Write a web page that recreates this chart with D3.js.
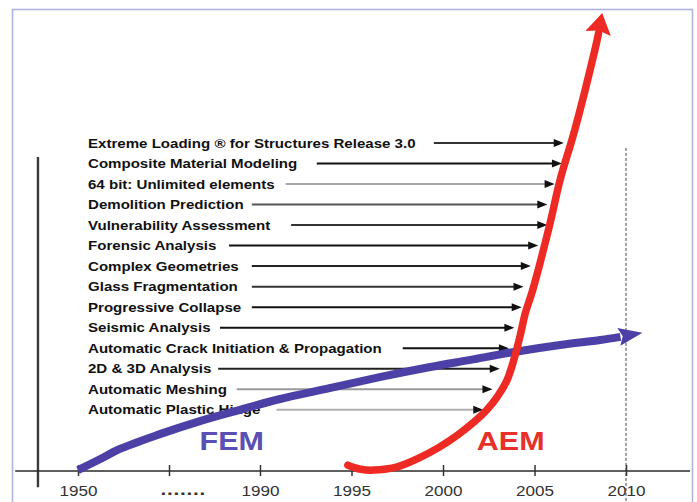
<!DOCTYPE html>
<html>
<head>
<meta charset="utf-8">
<script src="https://cdn.jsdelivr.net/npm/d3@7"></script>
<style>
  html, body { margin: 0; padding: 0; background: #fff; }
  svg { display: block; }
</style>
</head>
<body>
<svg id="chart" width="697" height="502"></svg>
<script>
// ---- data -------------------------------------------------------------
// Time axis (broken between 1950 and 1990)
const tickYears  = [1950, 1970, 1990, 1995, 2000, 2005, 2010];
const tickLabels = ["1950", ".......", "1990", "1995", "2000", "2005", "2010"];

// Milestones, top to bottom
const milestones = [
  "Extreme Loading \u00AE for Structures Release 3.0",
  "Composite Material Modeling",
  "64 bit: Unlimited elements",
  "Demolition Prediction",
  "Vulnerability Assessment",
  "Forensic Analysis",
  "Complex Geometries",
  "Glass Fragmentation",
  "Progressive Collapse",
  "Seismic Analysis",
  "Automatic Crack Initiation & Propagation",
  "2D & 3D Analysis",
  "Automatic Meshing",
  "Automatic Plastic Hinge"
];
// Year where each milestone arrow begins and the year it points at
const arrowFrom = [1999.5, 1993.1, 1991.4, 1988.2, 1991.7, 1983.2, 1988.2,
                   1988.2, 1988.2, 1981.2, 1997.8, 1980.8, 1984.9, 1990.9];
const arrowTo   = [2006.6, 2006.5, 2006.1, 2005.7, 2005.7, 2005.2, 2004.8,
                   2004.4, 2004.3, 2003.9, 2003.6, 2003.1, 2002.7, 2002.2];
// Milestone rows on the capability scale (top row, bottom row)
const rowTop = 72.9, rowBottom = 13.6;

// FEM capability over time (last point = arrow tip)
const femYears  = [1950, 1954.8, 1959.2, 1968.0, 1976.8, 1985.6, 1991.1, 1993.8,
                   1996.6, 1999.3, 2001.5, 2003.8, 2006.4, 2008.6, 2009.7, 2010.9];
const femValues = [0.2, 2.6, 4.9, 8.2, 11.1, 13.6, 16.0, 18.4,
                   20.9, 23.1, 24.7, 26.4, 28.0, 29.1, 29.8, 30.7];

// AEM capability over time (last point = arrow tip)
const aemYears  = [1994.8, 1995.5, 1996.2, 1997.5, 1998.7, 1999.8, 2000.8, 2001.7,
                   2002.4, 2003.0, 2003.5, 2003.9, 2004.2, 2004.5, 2004.9, 2005.8,
                   2006.4, 2007.2, 2008.3, 2008.5, 2008.7];
const aemValues = [1.3, 0.4, 0.2, 0.9, 2.9, 5.3, 8.0, 10.9,
                   13.6, 16.7, 20.2, 25.1, 29.8, 35.1, 40.2, 54.2,
                   64.7, 75.8, 93.6, 97.3, 101.8];

// ---- drawing ----------------------------------------------------------
const svg = d3.select("#chart");
const FONT = "'Liberation Sans', Arial, Helvetica, sans-serif";
const STRETCH = 1.22;

const x = d3.scaleLinear().domain([1950, 1990, 2010]).range([78, 260, 626]);
const y = d3.scaleLinear().domain([0, 100]).range([471, 21]);
const row = d3.scalePoint().domain(milestones).range([y(rowTop), y(rowBottom)]);

function stretch(sel, k) {
  sel.each(function () {
    const n = this.getComputedTextLength();
    this.setAttribute("textLength", n * k);
    this.setAttribute("lengthAdjust", "spacingAndGlyphs");
  });
}

// frame
svg.append("rect")
  .attr("x", 12.5).attr("y", 9.5)
  .attr("width", 680).attr("height", 520)
  .attr("fill", "none")
  .attr("stroke", "#aeb3df").attr("stroke-width", 1.6);

// vertical reference line at 2010
svg.append("line")
  .attr("x1", x(2010)).attr("x2", x(2010))
  .attr("y1", y(71.8)).attr("y2", 502)
  .attr("stroke", "#444").attr("stroke-width", 1)
  .attr("stroke-dasharray", "3,2");

// left vertical axis line
svg.append("line")
  .attr("x1", x(1941.2)).attr("x2", x(1941.2))
  .attr("y1", y(69.8)).attr("y2", y(-3.6))
  .attr("stroke", "#3a3a3a").attr("stroke-width", 2.4);

// horizontal axis
svg.append("line")
  .attr("x1", x(1936.2)).attr("x2", x(2013.5))
  .attr("y1", y(0)).attr("y2", y(0))
  .attr("stroke", "#2a2a2a").attr("stroke-width", 1.6);

const axis = d3.axisBottom(x)
  .tickValues(tickYears)
  .tickFormat((d, i) => tickLabels[i])
  .tickSize(5);

const gx = svg.append("g")
  .attr("transform", `translate(0,${y(0)})`)
  .call(axis);
gx.select(".domain").remove();
gx.selectAll(".tick line")
  .attr("y1", -6).attr("y2", 5)
  .attr("stroke", "#333").attr("stroke-width", 1.5);
gx.selectAll(".tick text")
  .attr("y", 25).attr("dy", null)
  .attr("fill", "#333")
  .style("font-family", FONT)
  .style("font-size", "14px");
gx.selectAll(".tick text")
  .filter((d, i) => tickLabels[i].startsWith("."))
  .attr("text-anchor", "start")
  .attr("x", -9).attr("y", 24)
  .style("font-size", "17px")
  .style("font-weight", "bold")
  .style("letter-spacing", "0.6px");
stretch(gx.selectAll(".tick text"), STRETCH);

// milestone labels
const labels = svg.append("g").selectAll("text")
  .data(milestones)
  .join("text")
  .attr("x", x(1952.2))
  .attr("y", d => row(d) + 4.6)
  .attr("fill", "#111")
  .style("font-family", FONT)
  .style("font-size", "12.5px")
  .style("font-weight", "bold")
  .text(d => d);
stretch(labels, 1.205);

// milestone arrows
const shade = ["#333", "#111", "#a8a8a8", "#555", "#333", "#111", "#222",
               "#333", "#111", "#111", "#111", "#222", "#9a9a9a", "#b0b0b0"];
const arrows = svg.append("g").selectAll("g")
  .data(milestones)
  .join("g");
arrows.append("line")
  .attr("x1", (d, i) => x(arrowFrom[i]))
  .attr("x2", (d, i) => x(arrowTo[i]) - 6)
  .attr("y1", d => row(d)).attr("y2", d => row(d))
  .attr("stroke", (d, i) => shade[i])
  .attr("stroke-width", 2);
arrows.append("path")
  .attr("d", (d, i) => {
    const tx = x(arrowTo[i]), ty = row(d);
    return `M${tx},${ty} L${tx - 10},${ty - 4} L${tx - 10},${ty + 4} Z`;
  })
  .attr("fill", "#111");

// notched arrowhead at the end of a trend line
function arrowHead(p0, p1, len, half, notch) {
  const dx = p1[0] - p0[0], dy = p1[1] - p0[1];
  const L = Math.hypot(dx, dy), ux = dx / L, uy = dy / L;
  const nx = -uy, ny = ux;
  const bx = p1[0] - ux * len, by = p1[1] - uy * len;
  return `M${p1[0]},${p1[1]}` +
    `L${bx + nx * half},${by + ny * half}` +
    `L${bx + ux * notch},${by + uy * notch}` +
    `L${bx - nx * half},${by - ny * half}Z`;
}

const line = d3.line().curve(d3.curveCatmullRom.alpha(0.5));

// FEM
const femPts = femYears.map((yr, i) => [x(yr), y(femValues[i])]);
const femCol = "#4c40a6";
svg.append("path")
  .attr("d", line(femPts.slice(0, -1)))
  .attr("fill", "none")
  .attr("stroke", femCol).attr("stroke-width", 8)
  .attr("stroke-linecap", "butt");
svg.append("path")
  .attr("d", arrowHead(femPts[femPts.length - 3], femPts[femPts.length - 1], 24, 9, 4))
  .attr("fill", femCol);

// AEM
const aemPts = aemYears.map((yr, i) => [x(yr), y(aemValues[i])]);
const aemCol = "#ee2a24";
svg.append("path")
  .attr("d", line(aemPts.slice(0, -1)))
  .attr("fill", "none")
  .attr("stroke", aemCol).attr("stroke-width", 7.5)
  .attr("stroke-linecap", "round");
svg.append("path")
  .attr("d", arrowHead(aemPts[aemPts.length - 3], aemPts[aemPts.length - 1], 21, 13, 3))
  .attr("fill", aemCol);

// series names
const names = svg.append("g");
names.append("text")
  .attr("x", x(1983.8)).attr("y", y(4.7))
  .attr("text-anchor", "middle")
  .attr("fill", "#5a4fb2")
  .style("font-family", FONT).style("font-size", "25px").style("font-weight", "bold")
  .text("FEM");
names.append("text")
  .attr("x", x(2003.7)).attr("y", y(4.7))
  .attr("text-anchor", "middle")
  .attr("fill", "#e8302a")
  .style("font-family", FONT).style("font-size", "25px").style("font-weight", "bold")
  .text("AEM");
stretch(names.selectAll("text"), STRETCH);
</script>
</body>
</html>
